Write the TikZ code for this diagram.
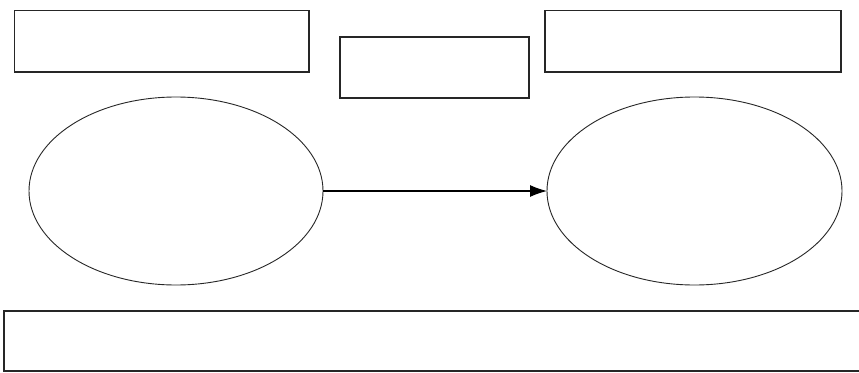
\documentclass[tikz,border=0pt]{standalone}
\usetikzlibrary{shapes.geometric,arrows.meta}
\begin{document}
\begin{tikzpicture}[x=1pt,y=-1pt,
  box/.style={draw=black!85,line width=1.2pt,rectangle,inner sep=0pt,outer sep=0pt},
  oval/.style={draw=black!85,line width=0.9pt,ellipse,inner sep=0pt,outer sep=0pt,minimum width=294pt,minimum height=188pt},
  conn/.style={draw=black,line width=1.2pt,-{Latex[length=17pt,width=12pt]}}]
\useasboundingbox[fill=white] (0,0) rectangle (859,372);
\node[box,minimum width=294.5pt,minimum height=61.5pt] (tl) at (161.75,41.25) {};
\node[box,minimum width=189pt,minimum height=61pt] (tm) at (434.5,67.5) {};
\node[box,minimum width=296pt,minimum height=61.5pt] (tr) at (693,41.25) {};
\node[oval] (el) at (176,191) {};
\node[oval,minimum width=295pt] (er) at (694.5,191) {};
\node[box,minimum width=860pt,minimum height=60pt,anchor=north west] (bt) at (4,311) {};
\draw[conn] (el.east) -- (er.west);
\end{tikzpicture}
\end{document}
